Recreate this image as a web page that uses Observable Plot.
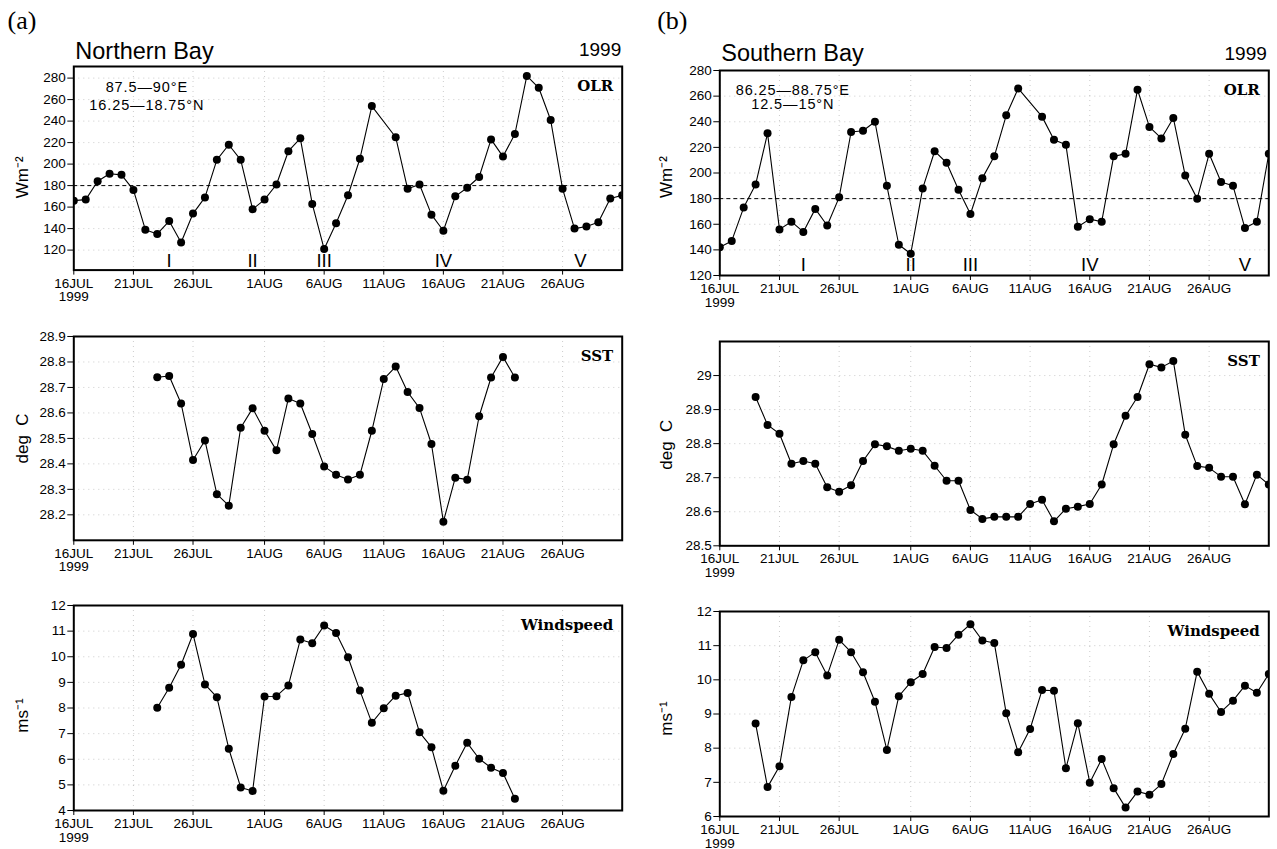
<!DOCTYPE html>
<html><head><meta charset="utf-8">
<script src="https://cdn.jsdelivr.net/npm/d3@7"></script>
<script src="https://cdn.jsdelivr.net/npm/@observablehq/plot@0.6"></script>
<style>
html,body{margin:0;padding:0;background:#fff;overflow:hidden;}
#page{position:relative;width:1277px;height:849px;background:#fff;}
#page svg{position:absolute;}
</style></head><body><div id="page"></div>
<script>
// ---------- data (month-day, 1999) ----------
const olrDates = ["07-16","07-17","07-18","07-19","07-20","07-21","07-22","07-23","07-24","07-25","07-26","07-27","07-28","07-29","07-30","07-31",
  "08-01","08-02","08-03","08-04","08-05","08-06","08-07","08-08","08-09","08-10",
  "08-12","08-13","08-14","08-15","08-16","08-17","08-18","08-19","08-20","08-21","08-22","08-23","08-24","08-25","08-26","08-27","08-28","08-29","08-30","08-31"];
const olrNorth = [166,167,184,191,190,176,139,135,147,127,154,169,204,218,204,158,
  167,181,212,224,163,121,145,171,205,254,
  225,177,181,153,138,170,178,188,223,207,228,282,271,241,177,140,142,146,168,171];
const olrSouth = [142,147,173,191,231,156,162,154,172,159,181,232,233,240,190,144,
  137,188,217,208,187,168,196,213,245,266,
  244,226,222,158,164,162,213,215,265,236,227,243,198,180,215,193,190,157,162,215];

const northDates = ["07-23","07-24","07-25","07-26","07-27","07-28","07-29","07-30","07-31",
  "08-01","08-02","08-03","08-04","08-05","08-06","08-07","08-08","08-09","08-10","08-11",
  "08-12","08-13","08-14","08-15","08-16","08-17","08-18","08-19","08-20","08-21","08-22"];
const sstNorth = [28.74,28.745,28.637,28.415,28.492,28.281,28.236,28.542,28.618,
  28.53,28.453,28.657,28.637,28.517,28.39,28.357,28.339,28.357,28.53,28.733,
  28.782,28.682,28.619,28.478,28.173,28.346,28.338,28.587,28.739,28.82,28.739];
const windNorth = [8.01,8.79,9.69,10.89,8.92,8.42,6.41,4.90,4.76,
  8.45,8.46,8.88,10.67,10.53,11.22,10.93,9.98,8.68,7.42,7.99,
  8.48,8.59,7.05,6.47,4.77,5.75,6.64,6.02,5.67,5.46,4.46];

const southDates = ["07-19","07-20","07-21","07-22","07-23","07-24","07-25","07-26","07-27","07-28","07-29","07-30","07-31",
  "08-01","08-02","08-03","08-04","08-05","08-06","08-07","08-08","08-09","08-10","08-11","08-12","08-13","08-14","08-15","08-16",
  "08-17","08-18","08-19","08-20","08-21","08-22","08-23","08-24","08-25","08-26","08-27","08-28","08-29","08-30","08-31"];
const sstSouth = [28.937,28.855,28.829,28.741,28.749,28.741,28.672,28.659,28.678,28.749,28.798,28.792,28.779,
  28.785,28.779,28.735,28.691,28.691,28.605,28.579,28.585,28.585,28.585,28.623,28.635,28.572,28.609,28.615,28.623,
  28.68,28.798,28.882,28.937,29.033,29.024,29.043,28.826,28.734,28.729,28.703,28.703,28.622,28.709,28.68];
const windSouth = [8.72,6.86,7.47,9.50,10.57,10.81,10.13,11.17,10.81,10.22,9.36,7.95,9.52,
  9.93,10.17,10.96,10.93,11.32,11.63,11.15,11.08,9.02,7.88,8.56,9.70,9.68,7.41,8.73,6.99,
  7.68,6.83,6.26,6.73,6.64,6.95,7.83,8.57,10.24,9.59,9.06,9.39,9.83,9.62,10.17];

const xTickDays = ["07-16","07-21","07-26","08-01","08-06","08-11","08-16","08-21","08-26"];
const xTickLabels = ["16JUL\n1999","21JUL","26JUL","1AUG","6AUG","11AUG","16AUG","21AUG","26AUG"];
const olrTicks = [120,140,160,180,200,220,240,260,280];
const sstTicksNorth = [28.2,28.3,28.4,28.5,28.6,28.7,28.8,28.9];
const sstTicksSouth = [28.5,28.6,28.7,28.8,28.9,29];
const windTicksNorth = [4,5,6,7,8,9,10,11,12];
const windTicksSouth = [6,7,8,9,10,11,12];

const romanLabels = ["I","II","III","IV","V"];
const romanNorth = ["07-24","07-31","08-06","08-16","08-27T12:00"];
const romanSouth = ["07-23","08-01","08-06","08-16","08-29"];

// ---------- helpers ----------
const parse = s => new Date("1999-" + s + (s.length === 5 ? "T00:00Z" : "Z"));
const xDomain = [parse("07-16"), parse("08-31")];
const xTicks = xTickDays.map(parse);
const tickLabelMap = new Map(xTicks.map((d, i) => [+d, xTickLabels[i]]));
const sans = "Liberation Sans, Arial, Helvetica, sans-serif";
const serifBold = "DejaVu Serif, Liberation Serif, serif";
const page = document.getElementById("page");

function panel(cfg) {
  const data = cfg.dates.map((d, i) => ({date: parse(d), value: cfg.values[i]}));
  const height = cfg.mt + (cfg.bottom - cfg.top) + cfg.mb;
  const marks = [
    Plot.gridX(xTicks, {stroke: "#999", strokeOpacity: 0.5, strokeDasharray: "1,4"}),
    Plot.gridY(cfg.yTicks, {stroke: "#999", strokeOpacity: 0.5, strokeDasharray: "1,4"}),
    Plot.axisX(xTicks, {tickFormat: d => tickLabelMap.get(+d), tickSize: 5, tickPadding: 3, label: null, fontSize: 13.5}),
    Plot.axisY(cfg.yTicks, {tickFormat: d => String(Math.round(d * 10) / 10), tickSize: 6, tickPadding: 2, label: null, fontSize: 13.5}),
    cfg.ref != null ? Plot.ruleY([cfg.ref], {stroke: "black", strokeWidth: 1, strokeDasharray: "4,3"}) : null,
    Plot.line(data, {x: "date", y: "value", stroke: "black", strokeWidth: 1.1, clip: true}),
    Plot.dot(data, {x: "date", y: "value", r: 4, fill: "black", clip: true}),
    Plot.frame({stroke: "black", strokeWidth: 2}),
    Plot.text([cfg.name], {frameAnchor: "top-right", dx: -9, dy: 19.5, textAnchor: "end", lineAnchor: "middle",
      fontFamily: serifBold, fontWeight: "bold", fontSize: 15}),
    Plot.text([cfg.yLabel], {frameAnchor: "left", dx: cfg.ylx, dy: cfg.yly, rotate: -90, textAnchor: "middle",
      lineAnchor: "middle", fontSize: 17}),
    ...(cfg.extra || [])
  ].filter(Boolean);
  const svg = Plot.plot({
    width: cfg.width, height,
    marginLeft: cfg.ml, marginRight: cfg.mr, marginTop: cfg.mt, marginBottom: cfg.mb,
    x: {type: "utc", domain: xDomain, label: null},
    y: {domain: cfg.yDomain, label: null},
    style: {fontFamily: sans, fontSize: "13px", background: "none", overflow: "visible", color: "black"},
    marks
  });
  svg.querySelectorAll("text").forEach(t => {
    if (t.textContent.includes("°")) t.setAttribute("letter-spacing", "0.9");
  });
  svg.style.left = cfg.left + "px";
  svg.style.top = (cfg.top - cfg.mt) + "px";
  page.appendChild(svg);
}

function romanMarks(days, dy) {
  return Plot.text(days.map((d, i) => ({date: parse(d), label: romanLabels[i]})),
    {x: "date", text: "label", frameAnchor: "bottom", dy, lineAnchor: "middle", fontSize: 18.5});
}
function headMarks(tag, tagDx, tagDy, title, titleDy, yearDx, yearDy) {
  return [
    Plot.text([tag], {frameAnchor: "top-left", dx: tagDx, dy: tagDy, textAnchor: "start", lineAnchor: "middle",
      fontFamily: "Liberation Serif, Times New Roman, serif", fontSize: 26}),
    Plot.text([title], {frameAnchor: "top-left", dx: 1.5, dy: titleDy, textAnchor: "start", lineAnchor: "middle", fontSize: 23.5}),
    Plot.text(["1999"], {frameAnchor: "top-right", dx: yearDx, dy: yearDy, textAnchor: "end", lineAnchor: "middle", fontSize: 19})
  ];
}
function coordMarks(l1, l2, dy1, dy2) {
  return [
    Plot.text([l1], {frameAnchor: "top-left", dx: 73, dy: dy1, textAnchor: "middle", lineAnchor: "middle", fontSize: 14.5}),
    Plot.text([l2], {frameAnchor: "top-left", dx: 73, dy: dy2, textAnchor: "middle", lineAnchor: "middle", fontSize: 14.5})
  ];
}

const A = {left: 0, width: 640, ml: 73.3, mr: 18.3, ylx: -51};
const B = {left: 640, width: 637, ml: 79.3, mr: 8.7, ylx: -53};

// Northern Bay OLR
panel({...A, top: 65.7, bottom: 269.3, mt: 60, mb: 40, dates: olrDates, values: olrNorth,
  yDomain: [101.4, 290.8], yTicks: olrTicks, ref: 180, name: "OLR", yLabel: "Wm⁻²", yly: 9,
  extra: [...headMarks("(a)", -66.3, -45.7, "Northern Bay", -15.5, -1, -16.7),
          ...coordMarks("87.5—90°E", "16.25—18.75°N", 20.5, 38.5), romanMarks(romanNorth, -9.5)]});
// Southern Bay OLR
panel({...B, top: 70.3, bottom: 275.3, mt: 62, mb: 40, dates: olrDates, values: olrSouth,
  yDomain: [120, 280], yTicks: olrTicks, ref: 180, name: "OLR", yLabel: "Wm⁻²", yly: 4,
  extra: [...headMarks("(b)", -62.6, -50.3, "Southern Bay", -17.5, -2, -17),
          ...coordMarks("86.25—88.75°E", "12.5—15°N", 19.5, 33.5), romanMarks(romanSouth, -10)]});
// SST
panel({...A, top: 335.7, bottom: 539.5, mt: 10, mb: 40, dates: northDates, values: sstNorth,
  yDomain: [28.1, 28.9], yTicks: sstTicksNorth, name: "SST", yLabel: "deg  C", yly: 0});
panel({...B, top: 340.7, bottom: 545, mt: 10, mb: 38, dates: southDates, values: sstSouth,
  yDomain: [28.5, 29.1], yTicks: sstTicksSouth, name: "SST", yLabel: "deg  C", yly: 1});
// Windspeed
panel({...A, top: 605, bottom: 810, mt: 10, mb: 38, dates: northDates, values: windNorth,
  yDomain: [4, 12], yTicks: windTicksNorth, name: "Windspeed", yLabel: "ms⁻¹", yly: 7.5});
panel({...B, top: 611, bottom: 816, mt: 10, mb: 33, dates: southDates, values: windSouth,
  yDomain: [6, 12], yTicks: windTicksSouth, name: "Windspeed", yLabel: "ms⁻¹", yly: 4.5});
</script></body></html>
